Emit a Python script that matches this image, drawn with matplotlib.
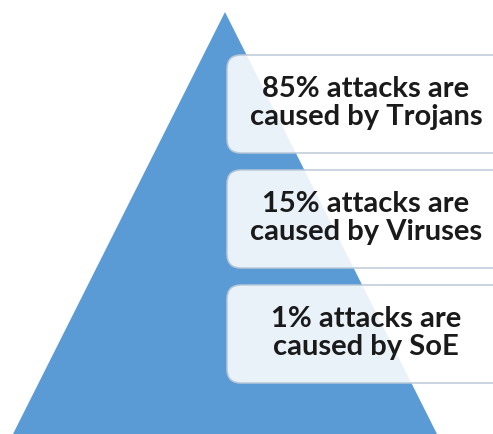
import matplotlib
matplotlib.use("Agg")
import matplotlib.pyplot as plt
from matplotlib.patches import Polygon, FancyBboxPatch

# pyramid levels, top to bottom
percents = [85, 15, 1]
causes = ["Trojans", "Viruses", "SoE"]

W, H = 493, 434
fig = plt.figure(figsize=(W / 100, H / 100), dpi=100)
ax = fig.add_axes([0, 0, 1, 1])
ax.set_xlim(0, W)
ax.set_ylim(H, 0)
ax.axis("off")

# blue pyramid
ax.add_patch(Polygon([(225, 12), (12, 436), (438, 436)], closed=True,
                     facecolor="#5b9bd5", edgecolor="none"))

# label boxes
box_top = 55
box_h = 98
gap = 17
for i, (p, c) in enumerate(zip(percents, causes)):
    y0 = box_top + i * (box_h + gap)
    ax.add_patch(FancyBboxPatch((227, y0), 290, box_h,
                                boxstyle="round,pad=0,rounding_size=14",
                                facecolor="white", alpha=0.88,
                                edgecolor="#b8c7d6", linewidth=1.2))
    ax.text(366, y0 + box_h / 2 - 1, f"{p}% attacks are\ncaused by {c}",
            ha="center", va="center", fontsize=21, fontweight="bold",
            family="Lato", color="#1a1a1a", linespacing=1.08)

fig.savefig("out.png", dpi=100, facecolor="white")
